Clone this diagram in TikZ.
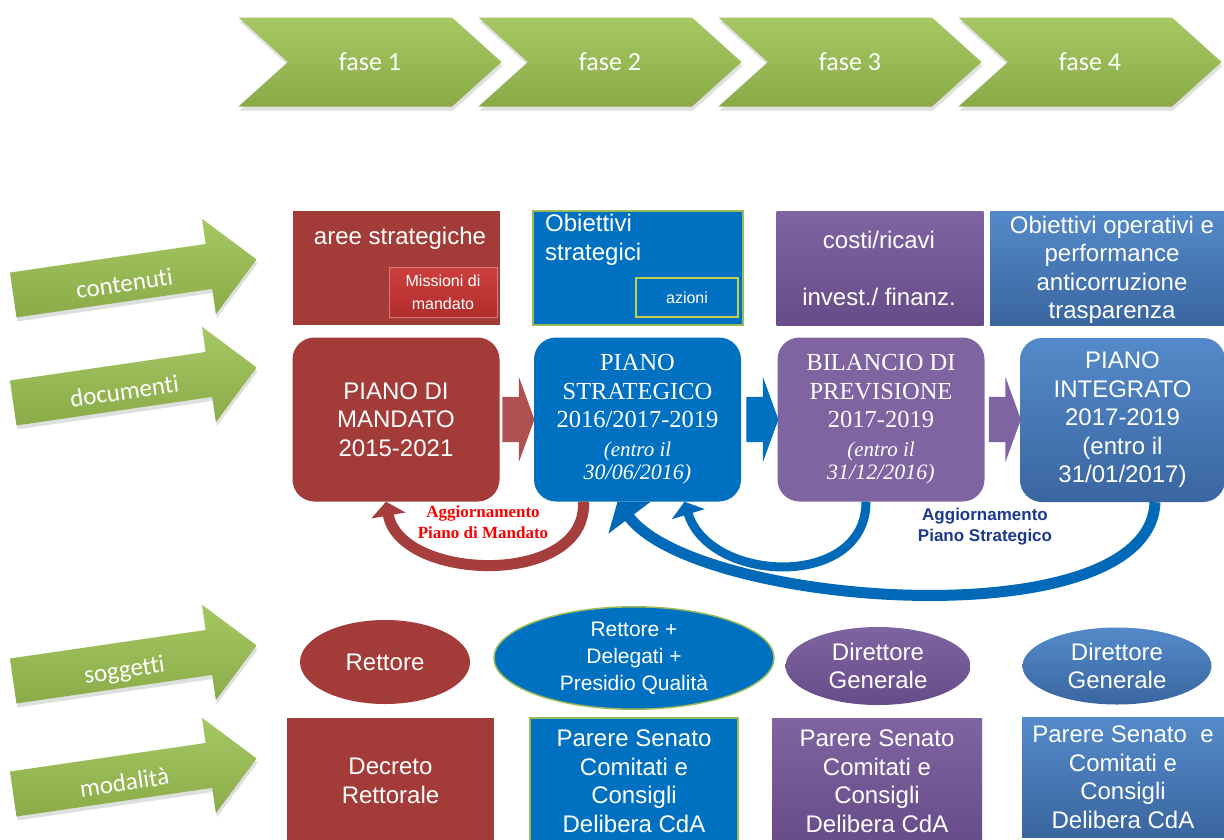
\documentclass[tikz,border=0pt]{standalone}
\usepackage{fontspec}
\setmainfont{Liberation Sans}
\newfontfamily\timesfont{Liberation Serif}
\newfontfamily\calibrifont[Ligatures=NoCommon]{Carlito}
\newcommand\sansbig{\fontsize{24}{28.5}\selectfont}
\newcommand\sanssmall{\fontsize{16}{23}\selectfont}
\newcommand\serifbig{\timesfont\fontsize{24.5}{28.5}\selectfont}
\usetikzlibrary{shapes.symbols,shapes.arrows,shapes.geometric,arrows.meta,shadows}
\begin{document}
\begin{tikzpicture}[x=1pt,y=-1pt,
  fasebox/.style={signal,signal from=west,signal to=east,signal pointer angle=84,minimum width=263pt,minimum height=89pt,inner sep=0pt,top color=greenLight,bottom color=greenDark,text=white,font=\calibrifont\fontsize{26}{30}\selectfont,drop shadow={opacity=0.25,shadow xshift=1pt,shadow yshift=-4pt}},
  sidearrow/.style={single arrow,single arrow head extend=25.5pt,minimum height=246pt,text height=26pt,text depth=0pt,inner ysep=9.5pt,inner xsep=0pt,top color=greenLight,bottom color=greenDark,anchor=tail,rotate=8.3,text=white,font=\calibrifont\fontsize{25}{30}\selectfont,drop shadow={opacity=0.25,shadow xshift=1pt,shadow yshift=-4pt}},
  linkarrow/.style={single arrow,single arrow head extend=20pt,single arrow tip angle=140,minimum height=32pt,minimum width=0pt,text height=0pt,text depth=0pt,inner ysep=22.5pt,inner xsep=0pt,anchor=tail},
  contbox/.style={rectangle,minimum height=114pt,inner sep=0pt},
  docbox/.style={rectangle,rounded corners=22pt,minimum width=207pt,minimum height=164pt,inner sep=0pt,align=center,text=white,font=\sansbig},
  subjellipse/.style={ellipse,inner sep=0pt,align=center,text=white,font=\sansbig},
  modebox/.style={rectangle,minimum height=126pt,inner sep=0pt,align=center,text=white,font=\sansbig},
  boxtext/.style={inner sep=0pt,align=center,text=white,font=\sansbig},
  updatecurve/.style={line width=#1,line cap=butt}
]
\definecolor{redFill}{RGB}{163,59,57}
\definecolor{missFill}{RGB}{204,64,62}
\definecolor{missDark}{RGB}{178,44,44}
\definecolor{blueFill}{RGB}{0,112,192}
\definecolor{purpleFill}{RGB}{128,100,162}
\definecolor{purpleDark}{RGB}{104,76,138}
\definecolor{steelFill}{RGB}{84,138,202}
\definecolor{steelDark}{RGB}{58,102,160}
\definecolor{greenLight}{RGB}{166,200,100}
\definecolor{greenDark}{RGB}{138,172,72}
\definecolor{lineGreen}{RGB}{155,187,89}
\definecolor{lineYellow}{RGB}{196,206,74}
\definecolor{noteRed}{RGB}{250,0,0}
\definecolor{noteBlue}{RGB}{28,58,140}
\definecolor{curveRed}{RGB}{165,62,60}
\definecolor{curveBlue}{RGB}{0,106,184}
\path[use as bounding box,fill=white] (0,0) rectangle (1224,839);
\clip (0,0) rectangle (1224,839);

\node[fasebox] (f1) at (370,62) {fase 1};

\node[fasebox] (f2) at (610,62) {fase 2};

\node[fasebox] (f3) at (850,62) {fase 3};

\node[fasebox] (f4) at (1090,62) {fase 4};

\node[sidearrow] (contenuti) at (13,295) {contenuti};

\node[sidearrow] (documenti) at (13,403) {documenti};

\node[sidearrow] (soggetti) at (13,681) {soggetti};

\node[sidearrow] (modalita) at (13,794) {modalità};

\node[contbox,minimum width=207pt,fill=redFill] (ca) at (396.5,268) {};

\node[boxtext] (caText) at (400,238) {aree strategiche};

\node[rectangle,minimum width=108pt,minimum height=50pt,inner sep=0pt,top color=missFill,bottom color=missDark,draw=missFill!70!white,line width=0.6pt,align=center,text=white,font=\sanssmall] (mm) at (443,292) {Missioni di\\mandato};

\node[contbox,minimum width=210pt,fill=blueFill,draw=lineGreen,line width=1.5pt] (cs) at (638,268) {};

\node[boxtext,align=left,anchor=west] (csText) at (545,240) {Obiettivi\\strategici};

\node[rectangle,minimum width=102pt,minimum height=39pt,inner sep=0pt,draw=lineYellow,line width=1.5pt,text=white,font=\sanssmall] (az) at (687,297.5) {azioni};

\node[contbox,minimum width=207pt,top color=purpleFill,bottom color=purpleDark] (cb) at (880,268) {};

\node[boxtext] (cbTop) at (879,240) {costi/ricavi};

\node[boxtext] (cbBottom) at (879,297) {invest./ finanz.};

\node[contbox,minimum width=234pt,top color=steelFill,bottom color=steelDark] (ci) at (1107,268) {};

\node[boxtext] (ciText) at (1112,270) {Obiettivi operativi e\\performance\\anticorruzione\\trasparenza};

\node[docbox,fill=redFill] (pm) at (396,419.5) {PIANO DI\\MANDATO\\2015-2021};

\node[docbox,fill=blueFill,font=\serifbig] (ps) at (637.5,419.5) {PIANO\\STRATEGICO\\2016/2017-2019\\{\itshape\fontsize{21}{24}\selectfont (entro il}\\[-5pt]{\itshape\fontsize{22}{24}\selectfont 30/06/2016)}};

\node[docbox,fill=purpleFill,font=\serifbig] (pb) at (881,419.5) {BILANCIO DI\\PREVISIONE\\2017-2019\\{\itshape\fontsize{21}{24}\selectfont (entro il}\\[-5pt]{\itshape\fontsize{22}{24}\selectfont 31/12/2016)}};

\node[docbox,minimum width=205pt,top color=steelFill,bottom color=steelDark] (pi) at (1122.5,420) {PIANO\\INTEGRATO\\2017-2019\\(entro il\\31/01/2017)};

\node[linkarrow,fill=curveRed!90!white] (l1) at ([xshift=2.5pt]pm.east) {};

\node[linkarrow,fill=blueFill] (l2) at ([xshift=5pt]ps.east) {};

\node[linkarrow,fill=purpleFill] (l3) at ([xshift=4pt]pb.east) {};

\draw[updatecurve=11pt,draw=curveRed,-{Triangle[width=34pt,length=14pt]}] ([xshift=-54pt]ps.south) .. controls +(4,86) and +(14,80) .. ([xshift=-10pt]pm.south);

\draw[updatecurve=9pt,draw=curveBlue,-{Triangle[width=34pt,length=13pt]}] ([xshift=-15pt]pb.south) .. controls +(0,88) and +(25,82) .. ([xshift=47pt]ps.south);

\draw[updatecurve=11pt,draw=curveBlue,-{Triangle[width=52pt,length=20pt]}] ([xshift=32.5pt]pi.south) .. controls +(-5,138) and +(80,106) .. ([xshift=-20pt]ps.south);

\node[inner sep=0pt,align=center,text=noteRed,font=\timesfont\bfseries\fontsize{17}{21}\selectfont] (agm) at (483,522.5) {Aggiornamento\\Piano di Mandato};

\node[inner sep=0pt,align=center,text=noteBlue,font=\bfseries\fontsize{17}{21}\selectfont] (ags) at (985,526.5) {Aggiornamento\\Piano Strategico};

\node[subjellipse,minimum width=170pt,minimum height=84pt,fill=redFill] (sr) at (385,662) {Rettore};

\node[subjellipse,minimum width=280pt,minimum height=93pt,fill=blueFill,draw=lineGreen,line width=1.5pt,font=\fontsize{21}{27}\selectfont] (sd) at (634,658) {Rettore +\\Delegati +\\Presidio Qualità};

\node[subjellipse,minimum width=185pt,minimum height=78pt,top color=purpleFill,bottom color=purpleDark] (sp) at (878,666) {Direttore\\Generale};

\node[subjellipse,minimum width=189pt,minimum height=77pt,top color=steelFill,bottom color=steelDark] (sg) at (1117,666) {Direttore\\Generale};

\node[modebox,minimum width=207pt,fill=redFill] (mr) at (390.5,781) {Decreto\\Rettorale};

\node[modebox,minimum width=208pt,fill=blueFill,draw=lineGreen,line width=1.5pt] (mb) at (634,781) {Parere Senato\\Comitati e\\Consigli\\Delibera CdA};

\node[modebox,minimum width=210pt,top color=purpleFill,bottom color=purpleDark] (mp) at (877,781) {Parere Senato\\Comitati e\\Consigli\\Delibera CdA};

\node[modebox,minimum width=202pt,minimum height=120pt,top color=steelFill,bottom color=steelDark] (mi) at (1123,777) {Parere Senato~ e\\Comitati e\\Consigli\\Delibera CdA};
\end{tikzpicture}
\end{document}
